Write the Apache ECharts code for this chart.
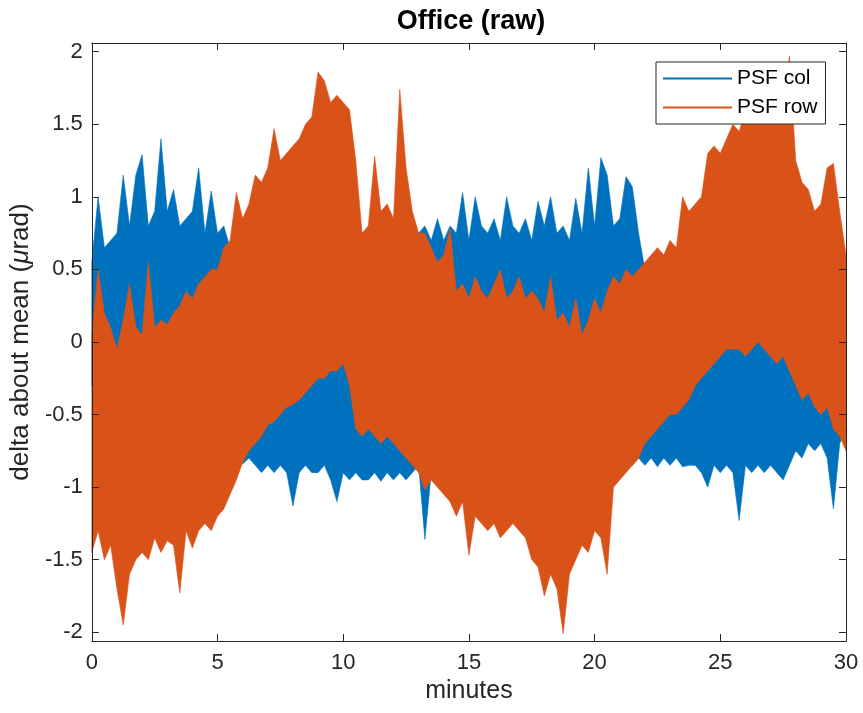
<!DOCTYPE html>
<html><head><meta charset="utf-8">
<script src="https://cdn.jsdelivr.net/npm/echarts@6/dist/echarts.min.js"></script>
<style>html,body{margin:0;padding:0;background:#fff}#c{width:863px;height:713px}</style>
</head><body><div id="c"></div>
<script>
// sample spacing of the envelope readings (minutes)
const sampleStep = 0.25;

// PSF col (blue) – upper and lower envelope, every 0.25 min
const colUpper = [
  0.55, 1.0, 0.65, 0.7,
  0.75, 1.15, 0.8, 1.15,
  1.29, 0.8, 0.9, 1.4,
  0.9, 1.05, 0.8, 0.85,
  0.9, 1.2, 0.75, 1.04,
  0.75, 0.8, 0.65, 0.5,
  0.4, 0.35, 0.3, 0.3,
  0.3, 0.35, 0.3, 0.3,
  0.3, 0.35, 0.3, 0.3,
  0.3, 0.35, 0.35, 0.4,
  0.45, 0.5, 0.45, 0.5,
  0.4, 0.45, 0.4, 0.45,
  0.4, 0.45, 0.5, 0.7,
  0.75, 0.8, 0.7, 0.85,
  0.7, 0.8, 0.75, 1.03,
  0.7, 1.0, 0.8, 0.75,
  0.85, 0.7, 1.0, 0.8,
  0.75, 0.85, 0.7, 0.97,
  0.8, 1.0, 0.75, 0.8,
  0.7, 0.99, 0.75, 1.2,
  0.8, 1.27, 1.15, 0.8,
  0.85, 1.14, 1.07, 0.75,
  0.5, 0.3, 0.3, 0.3,
  0.3, 0.3, 0.3, 0.3,
  0.25, 0.2, 0.2, 0.25,
  0.2, 0.25, 0.3, 0.25,
  0.3, 0.36, 0.3, 0.49,
  0.3, 0.3, 0.25, 0.3,
  0.35, 0.4, 0.45, 0.4,
  0.5, 0.45, 0.55, 0.81,
  0.5
];
const colLower = [
  -0.3, -0.35, -0.3, -0.3,
  -0.3, -0.35, -0.3, -0.3,
  -0.3, -0.35, -0.3, -0.3,
  -0.35, -0.35, -0.4, -0.4,
  -0.4, -0.45, -0.5, -0.55,
  -0.6, -0.65, -0.7, -0.75,
  -0.84, -0.8, -0.85, -0.9,
  -0.85, -0.9, -0.85, -0.9,
  -1.13, -0.9, -0.85, -0.9,
  -0.9, -0.85, -0.95, -1.1,
  -0.9, -0.95, -0.9, -0.95,
  -0.95, -0.9, -0.96, -0.9,
  -0.95, -0.9, -0.95, -0.9,
  -0.85, -1.36, -0.9, -0.85,
  -0.9, -0.85, -0.9, -0.85,
  -0.85, -0.8, -0.85, -0.8,
  -0.8, -0.85, -0.8, -0.8,
  -0.8, -0.85, -0.8, -0.8,
  -0.8, -0.85, -0.8, -0.8,
  -0.8, -0.85, -0.8, -0.7,
  -0.6, -0.5, -0.5, -0.6,
  -0.75, -0.8, -0.85, -0.8,
  -0.85, -0.8, -0.86, -0.8,
  -0.85, -0.8, -0.86, -0.85,
  -0.85, -0.9, -1.0, -0.85,
  -0.9, -0.85, -0.9, -1.23,
  -0.85, -0.9, -0.85, -0.9,
  -0.85, -0.9, -0.95, -0.85,
  -0.75, -0.8, -0.7, -0.75,
  -0.7, -0.8, -1.15, -0.7,
  -0.6
];

// PSF row (orange) – upper and lower envelope, every 0.25 min
const rowUpper = [
  0.05, 0.5, 0.2, 0.1,
  -0.05, 0.15, 0.4, 0.1,
  0.05, 0.55, 0.1, 0.15,
  0.12, 0.2, 0.25, 0.35,
  0.3, 0.4, 0.45, 0.5,
  0.5, 0.65, 0.7, 1.03,
  0.85, 0.95, 1.15, 1.1,
  1.2, 1.47, 1.25, 1.3,
  1.35, 1.4, 1.5, 1.55,
  1.86, 1.8, 1.65, 1.7,
  1.65, 1.6, 1.25, 0.75,
  0.8, 1.28, 0.9, 0.95,
  0.85, 1.74, 1.2, 0.9,
  0.75, 0.75, 0.65, 0.55,
  0.6, 0.78, 0.35, 0.4,
  0.3, 0.45, 0.35, 0.3,
  0.4, 0.5, 0.3, 0.35,
  0.45, 0.3, 0.35, 0.3,
  0.2, 0.45, 0.15, 0.2,
  0.1, 0.3, 0.05, 0.15,
  0.3, 0.2, 0.35, 0.45,
  0.4, 0.5, 0.45, 0.5,
  0.55, 0.6, 0.65, 0.6,
  0.7, 0.65, 1.0, 0.9,
  0.95, 1.0, 1.3, 1.35,
  1.3, 1.4, 1.5, 1.45,
  1.6, 1.5, 1.55, 1.6,
  1.5, 1.6, 1.55, 1.97,
  1.25, 1.1, 1.05, 0.9,
  0.95, 1.2, 1.23, 0.9,
  0.6
];
const rowLower = [
  -1.45, -1.3, -1.5, -1.4,
  -1.7, -1.95, -1.6, -1.5,
  -1.45, -1.5, -1.35, -1.45,
  -1.37, -1.4, -1.73, -1.3,
  -1.42, -1.3, -1.25, -1.3,
  -1.2, -1.15, -1.05, -0.95,
  -0.83, -0.75, -0.7, -0.65,
  -0.57, -0.55, -0.5, -0.45,
  -0.43, -0.4, -0.35, -0.3,
  -0.25, -0.25, -0.2, -0.2,
  -0.15, -0.3, -0.6, -0.65,
  -0.6, -0.65, -0.7, -0.65,
  -0.7, -0.75, -0.8, -0.85,
  -0.9, -1.02, -0.95, -1.0,
  -1.05, -1.1, -1.2, -1.1,
  -1.47, -1.2, -1.25, -1.3,
  -1.25, -1.35, -1.3, -1.25,
  -1.3, -1.35, -1.5, -1.55,
  -1.75, -1.6, -1.7, -2.01,
  -1.6, -1.5, -1.4, -1.45,
  -1.3, -1.35, -1.6, -1.0,
  -0.95, -0.9, -0.85, -0.8,
  -0.7, -0.65, -0.6, -0.55,
  -0.5, -0.5, -0.45, -0.4,
  -0.3, -0.25, -0.2, -0.15,
  -0.1, -0.05, -0.05, -0.05,
  -0.1, -0.05, 0.0, -0.05,
  -0.1, -0.15, -0.1, -0.2,
  -0.3, -0.4, -0.35, -0.45,
  -0.5, -0.45, -0.6, -0.65,
  -0.75
];

const seriesNames = ['PSF col', 'PSF row'];
const xTicks = [0, 5, 10, 15, 20, 25, 30];
const yTicks = [-2, -1.5, -1, -0.5, 0, 0.5, 1, 1.5, 2];

const FONT = '"Liberation Sans", Arial, Helvetica, sans-serif';
const AXC = '#262626';
const BLUE = '#0072BD';
const ORANGE = '#D95319';

// one data row per sample: [time, upper, lower]
function rows(up, lo) { return up.map((v, i) => [i * sampleStep, v, lo[i]]); }

// band polygon drawn through the chart's own scales
function bandRenderer(up, lo, color) {
  return function (params, api) {
    if (params.dataIndex !== 0) return null;
    const pts = [];
    for (let i = 0; i < up.length; i++) pts.push(api.coord([i * sampleStep, up[i]]));
    for (let i = lo.length - 1; i >= 0; i--) pts.push(api.coord([i * sampleStep, lo[i]]));
    return {
      type: 'polygon',
      shape: {points: pts},
      style: {fill: color, stroke: color, lineWidth: 0.6}
    };
  };
}

const chart = echarts.init(document.getElementById('c'), null, {renderer: 'canvas'});

const tickStyle = {show: true, inside: true, length: 7, lineStyle: {color: AXC, width: 1}};
const lineStyleAxis = {show: true, onZero: false, lineStyle: {color: AXC, width: 1}};

chart.setOption({
  animation: false,
  backgroundColor: '#fff',
  grid: {left: 90, right: 17, top: 43, bottom: 72, containLabel: false},
  graphic: [{
    type: 'text', x: 471, y: 22,
    style: {text: 'Office (raw)', font: 'bold 27px ' + FONT, fill: '#000', textAlign: 'center', textVerticalAlign: 'middle'}
  }],
  legend: {
    orient: 'vertical', left: 656, top: 62, z: 20,
    data: [{name: seriesNames[0], icon: 'rect'}, {name: seriesNames[1], icon: 'rect'}],
    itemWidth: 69, itemHeight: 2, itemGap: 8,
    padding: [6, 8, 6, 7],
    borderColor: AXC, borderWidth: 1, backgroundColor: '#fff',
    textStyle: {fontFamily: FONT, fontSize: 21, color: '#000'},
    selectedMode: false
  },
  xAxis: [
    {
      type: 'value', position: 'bottom', min: 0, max: 30, interval: 5, z: 10,
      name: 'minutes', nameLocation: 'middle', nameGap: 37,
      nameTextStyle: {fontFamily: FONT, fontSize: 25, color: AXC},
      axisLine: lineStyleAxis, axisTick: tickStyle, splitLine: {show: false},
      axisLabel: {fontFamily: FONT, fontSize: 22, color: AXC, margin: 11, customValues: xTicks}
    },
    {
      type: 'value', position: 'top', min: 0, max: 30, interval: 5, z: 10,
      axisLine: lineStyleAxis, axisTick: tickStyle, splitLine: {show: false},
      axisLabel: {show: false}
    }
  ],
  yAxis: [
    {
      type: 'value', position: 'left', min: -2.06, max: 2.06, z: 10,
      name: '{n|delta about mean (}{i|μ}{n|rad)}', nameLocation: 'middle', nameGap: 55, nameRotate: 90,
      nameTextStyle: {
        rich: {
          n: {fontFamily: FONT, fontSize: 26, color: AXC},
          i: {fontFamily: FONT, fontSize: 26, color: AXC, fontStyle: 'italic'}
        }
      },
      axisLine: lineStyleAxis, splitLine: {show: false},
      axisTick: Object.assign({customValues: yTicks}, tickStyle),
      axisLabel: {fontFamily: FONT, fontSize: 22, color: AXC, margin: 9, customValues: yTicks}
    },
    {
      type: 'value', position: 'right', min: -2.06, max: 2.06, z: 10,
      axisLine: lineStyleAxis, splitLine: {show: false},
      axisTick: Object.assign({customValues: yTicks}, tickStyle),
      axisLabel: {show: false}
    }
  ],
  series: [
    {
      name: seriesNames[0], type: 'custom', xAxisIndex: 0, yAxisIndex: 0, z: 2,
      data: rows(colUpper, colLower), encode: {x: 0, y: [1, 2]},
      renderItem: bandRenderer(colUpper, colLower, BLUE),
      itemStyle: {color: BLUE}, silent: true, clip: true
    },
    {
      name: seriesNames[1], type: 'custom', xAxisIndex: 0, yAxisIndex: 0, z: 3,
      data: rows(rowUpper, rowLower), encode: {x: 0, y: [1, 2]},
      renderItem: bandRenderer(rowUpper, rowLower, ORANGE),
      itemStyle: {color: ORANGE}, silent: true, clip: true
    }
  ]
});
</script>
</body></html>
